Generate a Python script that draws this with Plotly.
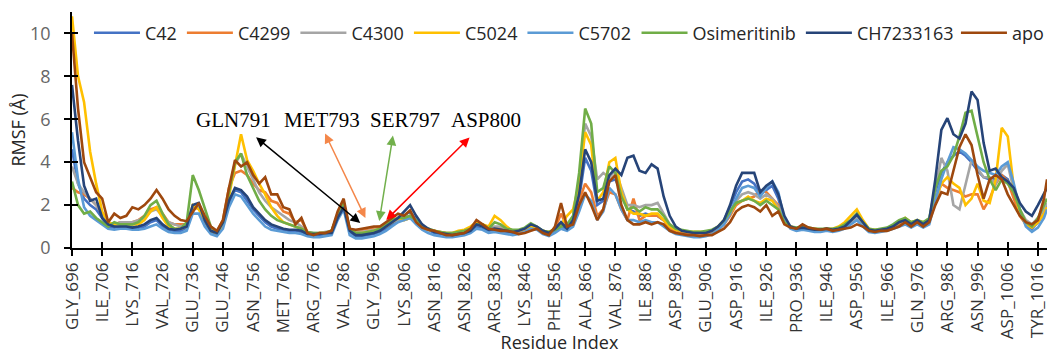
import plotly.graph_objects as go

# ---------------- data ----------------
residues = list(range(696, 1019, 2)) + [1019]

tick_res = list(range(696, 1017, 10))
tick_labels = ["GLY_696", "ILE_706", "LYS_716", "VAL_726", "GLU_736", "GLU_746",
               "ASN_756", "MET_766", "ARG_776", "VAL_786", "GLY_796", "LYS_806",
               "ASN_816", "ASN_826", "ARG_836", "LYS_846", "PHE_856", "ALA_866",
               "VAL_876", "ILE_886", "ASP_896", "GLU_906", "ASP_916", "ILE_926",
               "PRO_936", "ILE_946", "ASP_956", "ILE_966", "GLN_976", "ARG_986",
               "ASN_996", "ASP_1006", "TYR_1016"]

series_names = ["C42", "C4299", "C4300", "C5024", "C5702", "Osimeritinib", "CH7233163", "apo"]

c42 = [4.6, 3.0, 2.3, 2.0, 1.8, 1.4, 1.0, 0.95, 1.0, 1.0,
       0.95, 0.95, 1.0, 1.2, 1.3, 1.0, 0.85, 0.8, 0.8, 0.95,
       1.9, 1.9, 1.2, 0.75, 0.65, 1.1, 2.1, 2.7, 2.6, 2.2,
       1.8, 1.5, 1.2, 1.0, 0.9, 0.85, 0.8, 0.8, 0.75, 0.6,
       0.6, 0.6, 0.65, 0.7, 1.4, 1.9, 0.75, 0.55, 0.55, 0.6,
       0.65, 0.75, 0.9, 1.1, 1.3, 1.5, 1.7, 1.3, 1.0, 0.85,
       0.7, 0.65, 0.6, 0.6, 0.6, 0.65, 0.75, 1.0, 0.95, 0.8,
       0.85, 0.8, 0.75, 0.7, 0.75, 0.85, 1.0, 0.95, 0.75, 0.65,
       0.8, 1.0, 0.9, 1.2, 2.3, 4.2, 3.6, 2.0, 2.2, 3.1,
       3.2, 2.6, 1.8, 1.7, 1.5, 1.6, 1.5, 1.5, 1.3, 1.0,
       0.8, 0.7, 0.65, 0.65, 0.65, 0.65, 0.75, 0.95, 1.3, 1.9,
       2.6, 3.1, 3.2, 3.0, 2.5, 2.7, 2.9, 2.3, 1.3, 0.95,
       0.85, 0.9, 0.85, 0.8, 0.8, 0.85, 0.8, 0.85, 0.95, 1.2,
       1.4, 1.1, 0.8, 0.75, 0.8, 0.85, 0.95, 1.1, 1.2, 1.0,
       1.2, 1.0, 1.2, 2.6, 3.5, 4.0, 4.3, 4.5, 4.3, 4.0,
       3.6, 3.3, 3.2, 3.2, 3.4, 3.2, 2.5, 1.7, 1.1, 0.9,
       1.2, 1.7, 2.0]

c4299 = [2.8, 2.6, 2.5, 2.3, 2.0, 1.6, 1.1, 1.1, 1.2, 1.2,
         1.2, 1.3, 1.5, 1.8, 1.9, 1.6, 1.2, 1.1, 1.1, 1.1,
         1.8, 1.9, 1.4, 0.9, 0.75, 1.3, 2.8, 3.5, 3.6, 3.4,
         3.0, 2.7, 2.6, 2.2, 2.1, 1.7, 1.6, 1.2, 1.3, 0.75,
         0.65, 0.7, 0.7, 0.8, 1.5, 2.1, 0.85, 0.8, 0.85, 0.9,
         0.95, 1.0, 1.1, 1.3, 1.4, 1.4, 1.5, 1.2, 0.95, 0.85,
         0.8, 0.7, 0.65, 0.65, 0.7, 0.75, 0.9, 1.2, 1.1, 0.9,
         0.95, 0.9, 0.85, 0.8, 0.7, 0.8, 0.9, 0.9, 0.75, 0.65,
         0.9, 1.6, 1.0, 1.2, 2.2, 3.0, 2.6, 1.5, 1.8, 2.6,
         2.5, 1.8, 1.3, 2.3, 1.3, 1.5, 1.5, 1.5, 1.3, 0.9,
         0.75, 0.7, 0.65, 0.65, 0.6, 0.65, 0.7, 0.85, 1.1, 1.5,
         2.0, 2.2, 2.3, 2.4, 2.7, 2.6, 2.3, 2.0, 1.2, 1.0,
         0.9, 1.0, 0.9, 0.85, 0.85, 0.85, 0.85, 0.9, 1.0, 1.2,
         1.3, 1.1, 0.85, 0.8, 0.8, 0.85, 0.95, 1.1, 1.2, 1.1,
         1.2, 1.1, 1.3, 2.2, 3.0, 2.8, 2.7, 2.6, 2.4, 2.5,
         2.5, 1.8, 2.3, 3.0, 3.4, 3.1, 2.3, 1.5, 1.1, 1.0,
         1.2, 1.6, 1.9]

c4300 = [3.8, 3.0, 2.6, 2.3, 2.0, 1.6, 1.1, 1.1, 1.2, 1.2,
         1.2, 1.3, 1.4, 1.7, 1.8, 1.5, 1.2, 1.1, 1.0, 1.1,
         1.9, 1.9, 1.4, 0.9, 0.75, 1.2, 2.6, 3.9, 4.4, 3.8,
         3.2, 2.6, 2.2, 1.9, 1.7, 1.5, 1.3, 1.2, 1.0, 0.75,
         0.7, 0.7, 0.75, 0.8, 1.5, 2.0, 0.9, 0.75, 0.75, 0.8,
         0.85, 0.9, 1.0, 1.2, 1.3, 1.3, 1.4, 1.2, 1.0, 0.9,
         0.8, 0.75, 0.7, 0.7, 0.75, 0.8, 0.9, 1.1, 1.0, 0.9,
         1.0, 1.0, 0.9, 0.8, 0.8, 0.9, 1.0, 0.95, 0.8, 0.75,
         0.85, 1.0, 1.1, 1.4, 3.2, 5.8, 5.2, 3.2, 3.5, 3.3,
         3.6, 2.8, 2.0, 2.0, 1.9, 2.0, 2.0, 2.1, 1.6, 1.1,
         0.9, 0.8, 0.75, 0.7, 0.7, 0.75, 0.8, 0.95, 1.2, 1.6,
         2.2, 2.5, 2.6, 2.5, 2.3, 2.5, 2.3, 1.9, 1.2, 1.0,
         0.9, 0.95, 0.9, 0.85, 0.85, 0.85, 0.85, 0.9, 1.0, 1.2,
         1.4, 1.1, 0.85, 0.8, 0.85, 0.9, 1.0, 1.2, 1.3, 1.1,
         1.2, 1.1, 1.3, 2.8, 4.2, 3.6, 2.0, 1.8, 3.0, 4.1,
         3.7, 3.3, 3.3, 3.0, 3.6, 3.9, 2.7, 1.8, 1.3, 1.1,
         1.4, 1.8, 2.1]

c5024 = [10.8, 8.0, 6.8, 4.5, 3.0, 1.7, 1.2, 1.1, 1.1, 1.1,
         1.1, 1.1, 1.3, 1.7, 1.9, 1.4, 1.0, 0.9, 0.9, 1.0,
         2.0, 1.8, 1.3, 0.8, 0.7, 1.1, 2.4, 3.8, 5.3, 4.1,
         3.6, 3.0, 2.5, 1.9, 1.5, 1.2, 1.1, 1.0, 0.9, 0.7,
         0.65, 0.7, 0.7, 0.8, 1.5, 2.0, 0.85, 0.7, 0.7, 0.75,
         0.8, 0.9, 1.0, 1.2, 1.4, 1.3, 1.4, 1.2, 1.0, 0.85,
         0.8, 0.75, 0.7, 0.7, 0.8, 0.85, 1.0, 1.2, 1.1, 1.0,
         1.5, 1.3, 1.0, 0.8, 0.8, 0.9, 1.0, 0.95, 0.8, 0.75,
         0.9, 1.1, 1.5, 1.8, 3.0, 5.4, 4.8, 2.2, 2.6, 4.0,
         4.2, 2.6, 1.8, 1.6, 1.6, 1.5, 1.6, 1.6, 1.3, 1.0,
         0.85, 0.8, 0.75, 0.75, 0.75, 0.75, 0.8, 1.0, 1.3, 1.6,
         2.1, 2.2, 2.4, 2.2, 2.1, 2.3, 2.2, 1.8, 1.2, 1.0,
         0.9, 0.95, 0.9, 0.9, 0.85, 0.9, 0.9, 1.0, 1.2, 1.5,
         1.8, 1.3, 0.9, 0.85, 0.85, 0.9, 1.0, 1.2, 1.4, 1.2,
         1.3, 1.2, 1.3, 2.2, 3.0, 3.3, 3.0, 2.8, 2.0, 2.3,
         3.0, 2.2, 2.1, 3.2, 5.6, 5.2, 2.8, 1.6, 1.1, 0.95,
         1.2, 1.6, 1.9]

c5702 = [5.4, 3.2, 1.9, 1.5, 1.3, 1.1, 0.9, 0.85, 0.9, 0.9,
         0.85, 0.85, 0.9, 1.0, 1.1, 0.9, 0.75, 0.7, 0.7, 0.8,
         1.6, 1.6, 1.0, 0.65, 0.55, 0.9, 1.9, 2.5, 2.4, 2.0,
         1.6, 1.3, 1.0, 0.85, 0.8, 0.75, 0.7, 0.7, 0.65, 0.55,
         0.5, 0.5, 0.55, 0.6, 1.3, 1.8, 0.6, 0.45, 0.45, 0.5,
         0.55, 0.65, 0.8, 1.0, 1.2, 1.3, 1.4, 1.1, 0.85, 0.7,
         0.6, 0.55, 0.5, 0.5, 0.55, 0.6, 0.7, 0.9, 0.85, 0.7,
         0.75, 0.7, 0.65, 0.6, 0.65, 0.75, 0.9, 0.85, 0.65, 0.55,
         0.7, 0.9, 0.8, 1.0, 1.7, 2.5, 2.2, 1.3, 1.7, 2.8,
         2.5, 1.8, 1.3, 1.3, 1.2, 1.3, 1.2, 1.2, 1.0, 0.8,
         0.65, 0.6, 0.55, 0.5, 0.5, 0.55, 0.65, 0.85, 1.1, 1.6,
         2.3, 2.8, 2.9, 2.8, 2.4, 2.8, 3.1, 2.6, 1.3, 0.9,
         0.8, 0.85, 0.8, 0.75, 0.75, 0.8, 0.75, 0.8, 0.9, 1.1,
         1.3, 1.0, 0.75, 0.7, 0.75, 0.8, 0.9, 1.0, 1.1, 0.95,
         1.1, 0.95, 1.1, 2.2, 3.2, 4.0, 4.7, 4.6, 4.4, 4.1,
         3.8, 3.6, 3.5, 3.4, 3.8, 4.0, 3.0, 1.8, 1.0, 0.75,
         0.95, 1.4, 1.8]

osimeritinib = [3.1, 2.0, 1.6, 1.7, 1.4, 1.2, 1.0, 1.2, 1.1, 1.1,
                1.1, 1.2, 1.5, 2.0, 2.2, 1.6, 1.1, 0.9, 0.9, 1.2,
                3.4, 2.7, 1.8, 1.0, 0.75, 1.2, 2.6, 4.0, 4.4, 3.4,
                2.8, 2.2, 1.8, 1.5, 1.3, 1.2, 1.1, 1.0, 0.9, 0.75,
                0.7, 0.7, 0.7, 0.8, 1.6, 2.1, 0.9, 0.7, 0.7, 0.75,
                0.8, 0.9, 1.1, 1.3, 1.4, 1.4, 1.5, 1.3, 1.0, 0.9,
                0.8, 0.75, 0.7, 0.7, 0.75, 0.8, 0.9, 1.1, 1.1, 0.9,
                1.2, 1.1, 0.9, 0.85, 0.85, 0.95, 1.15, 1.0, 0.8, 0.75,
                0.85, 1.0, 1.1, 1.5, 3.5, 6.5, 5.8, 2.6, 2.8, 3.8,
                3.5, 2.4, 1.8, 1.9, 1.7, 1.9, 1.8, 1.8, 1.5, 1.1,
                0.9, 0.85, 0.8, 0.75, 0.75, 0.8, 0.85, 1.0, 1.3, 1.7,
                2.1, 2.2, 2.3, 2.2, 2.0, 2.2, 2.0, 1.8, 1.2, 1.0,
                0.95, 1.0, 0.95, 0.9, 0.9, 0.9, 0.9, 0.95, 1.1, 1.3,
                1.6, 1.2, 0.9, 0.85, 0.9, 0.95, 1.1, 1.3, 1.4, 1.2,
                1.3, 1.2, 1.4, 2.8, 3.6, 3.8, 4.3, 5.2, 6.3, 6.4,
                5.2, 4.0, 3.2, 2.7, 3.2, 3.0, 2.6, 1.8, 1.2, 1.0,
                1.4, 2.0, 2.3]

ch7233163 = [7.6, 5.0, 2.9, 2.2, 2.3, 1.4, 1.1, 1.0, 1.0, 1.0,
             0.95, 1.0, 1.1, 1.3, 1.4, 1.1, 0.9, 0.85, 0.9, 1.0,
             2.0, 2.1, 1.3, 0.8, 0.7, 1.2, 2.2, 2.8, 2.7, 2.4,
             1.9, 1.6, 1.3, 1.1, 1.0, 0.9, 0.85, 0.85, 0.8, 0.65,
             0.65, 0.65, 0.7, 0.7, 1.4, 1.9, 0.8, 0.6, 0.6, 0.65,
             0.7, 0.8, 1.0, 1.2, 1.4, 1.7, 2.0, 1.5, 1.1, 0.9,
             0.75, 0.7, 0.65, 0.6, 0.65, 0.7, 0.8, 1.1, 1.0, 0.85,
             0.9, 0.85, 0.8, 0.75, 0.8, 0.9, 1.1, 1.0, 0.8, 0.7,
             0.9, 1.2, 0.9, 1.3, 2.5, 4.6, 4.0, 2.2, 2.3, 3.4,
             3.7, 3.4, 4.2, 4.3, 3.6, 3.5, 3.9, 3.7, 2.4, 1.5,
             1.0, 0.8, 0.75, 0.7, 0.7, 0.7, 0.8, 1.0, 1.3, 2.0,
             2.9, 3.5, 3.5, 3.5, 2.6, 2.9, 3.1, 2.5, 1.5, 1.0,
             0.9, 0.95, 0.9, 0.85, 0.85, 0.9, 0.85, 0.9, 1.0, 1.3,
             1.55, 1.2, 0.85, 0.8, 0.85, 0.9, 1.0, 1.2, 1.3, 1.1,
             1.3, 1.1, 1.3, 3.2, 5.5, 6.05, 5.3, 5.1, 5.8, 7.3,
             6.9, 4.9, 3.6, 3.7, 3.3, 3.1, 2.8, 2.1, 1.7, 1.5,
             2.0, 2.5, 2.8]

apo = [10.0, 6.5, 4.0, 3.3, 2.6, 2.3, 1.2, 1.6, 1.4, 1.5,
       1.9, 1.8, 2.0, 2.3, 2.7, 2.3, 1.8, 1.5, 1.3, 1.25,
       1.7, 2.1, 1.5, 1.0, 0.8, 1.3, 2.8, 4.1, 3.8, 4.0,
       3.4, 3.0, 3.3, 2.5, 2.5, 1.9, 1.8, 1.1, 1.4, 0.7,
       0.6, 0.7, 0.7, 0.8, 1.7, 2.3, 0.9, 0.85, 0.9, 0.95,
       1.0, 1.0, 1.2, 1.4, 1.6, 1.5, 1.75, 1.2, 0.95, 0.85,
       0.8, 0.7, 0.6, 0.6, 0.65, 0.7, 0.9, 1.3, 1.1, 0.9,
       0.85, 0.8, 0.8, 0.75, 0.65, 0.7, 0.8, 0.9, 0.7, 0.6,
       1.0, 2.1, 1.0, 1.1, 2.0, 2.6, 2.0, 1.3, 1.8, 3.1,
       3.4, 2.0, 1.3, 1.1, 1.1, 1.2, 1.1, 1.2, 1.1, 0.8,
       0.7, 0.65, 0.6, 0.6, 0.55, 0.6, 0.6, 0.75, 0.9, 1.2,
       1.7, 1.9, 2.0, 1.9, 1.7, 2.0, 1.5, 1.7, 1.1, 0.95,
       0.9, 1.1, 0.95, 0.9, 0.85, 0.9, 0.8, 0.85, 0.9, 0.95,
       1.1, 1.0, 0.8, 0.75, 0.8, 0.8, 0.9, 1.0, 1.2, 1.0,
       1.2, 1.0, 1.2, 2.0, 2.6, 2.5, 3.6, 4.7, 5.3, 4.8,
       3.4, 2.3, 3.2, 3.4, 3.2, 2.5, 2.0, 1.5, 1.2, 1.1,
       1.3, 2.3, 3.2]

series_values = [c42, c4299, c4300, c5024, c5702, osimeritinib, ch7233163, apo]
series_colors = ["#4472C4", "#ED7D31", "#A5A5A5", "#FFC000", "#5B9BD5", "#70AD47", "#264478", "#9E480E"]
# legend block each series is listed in (the legend row is split into three blocks)
series_legend = ["legend", "legend", "legend", "legend", "legend", "legend2", "legend2", "legend3"]

site_labels = ["GLN791", "MET793", "SER797", "ASP800"]

# ---------------- figure ----------------
fig = go.Figure()
for name, vals, col, lg in zip(series_names, series_values, series_colors, series_legend):
    fig.add_trace(go.Scatter(x=residues, y=vals, mode="lines", name=name, legend=lg,
                             line=dict(color=col, width=2.6)))

# helper overlay axes for "cross" tick marks (inside part)
fig.add_trace(go.Scatter(x=[], y=[], xaxis="x2", yaxis="y2", showlegend=False, hoverinfo="skip"))

axis_font = dict(family="Open Sans", size=17, color="#333333")
x_range = [696, 1019]
y_ticks = [0, 2, 4, 6, 8, 10]
legend_style = dict(orientation="h", y=0.911, yanchor="middle",
                    font=dict(family="Open Sans", size=18, color="#262626"),
                    itemwidth=46, bgcolor="rgba(0,0,0,0)", borderwidth=0, tracegroupgap=0)

fig.update_layout(
    template="none",
    width=1054, height=354,
    margin=dict(l=72, r=5, t=12, b=106),
    paper_bgcolor="white", plot_bgcolor="white",
    font=dict(family="Open Sans", size=17, color="#262626"),
    showlegend=True,
    legend=dict(x=0.0174, xanchor="left", **legend_style),
    legend2=dict(x=0.5790, xanchor="left", **legend_style),
    legend3=dict(x=1.002, xanchor="right", **legend_style),
    xaxis=dict(range=x_range, tickmode="array", tickvals=tick_res, ticktext=tick_labels,
               tickangle=-90, ticks="outside", ticklen=6, tickwidth=1.5, tickcolor="black",
               showline=True, linecolor="black", linewidth=1.5, showgrid=False, zeroline=False,
               tickfont=axis_font, automargin=False,
               title=dict(text="Residue Index", font=dict(family="Open Sans", size=18, color="#262626"),
                          standoff=4)),
    yaxis=dict(range=[0, 11], tickmode="array", tickvals=y_ticks,
               ticks="outside", ticklen=6, tickwidth=1.5, tickcolor="black",
               showline=True, linecolor="black", linewidth=1.5, showgrid=False, zeroline=False,
               tickfont=dict(family="Open Sans", size=18, color="#666666"),
               ticklabelstandoff=10, automargin=False,
               title=dict(text="RMSF (Å)", font=dict(family="Open Sans", size=18, color="#262626"),
                          standoff=0)),
    xaxis2=dict(overlaying="x", anchor="y", range=x_range, tickmode="array", tickvals=tick_res,
                ticks="inside", ticklen=6, tickwidth=1.5, tickcolor="black", showticklabels=False,
                showline=False, showgrid=False, zeroline=False, side="bottom", automargin=False),
    yaxis2=dict(overlaying="y", anchor="x", range=[0, 11], tickmode="array", tickvals=y_ticks,
                ticks="inside", ticklen=6, tickwidth=1.5, tickcolor="black", showticklabels=False,
                showline=False, showgrid=False, zeroline=False, side="left", automargin=False),
)

# site labels
label_x = [749.6, 778.8, 806.4, 833.2]
for txt, lx in zip(site_labels, label_x):
    fig.add_annotation(x=lx, y=5.97, xref="x", yref="y", text=txt, showarrow=False,
                       font=dict(family="Liberation Serif", size=21, color="black"))

# double-headed arrows: (tail x, tail y, head x, head y, colour)
arrows = [
    (756.5, 5.22, 791.5, 1.17, "#000000"),
    (779.6, 5.41, 793.2, 1.40, "#F4874A"),
    (802.4, 5.31, 797.8, 1.26, "#72B04C"),
    (828.2, 5.22, 800.1, 1.31, "#FF0000"),
]
for ax_, ay_, hx, hy, col in arrows:
    fig.add_annotation(x=hx, y=hy, ax=ax_, ay=ay_, xref="x", yref="y", axref="x", ayref="y",
                       text="", showarrow=True, arrowhead=2, startarrowhead=2, arrowside="end+start",
                       arrowsize=1.3, startarrowsize=1.3, arrowwidth=1.5, arrowcolor=col,
                       standoff=0, startstandoff=0)

fig.write_html("out.html", config={"displayModeBar": False},
               post_script="document.body.style.margin='0';document.body.style.overflow='hidden';")
